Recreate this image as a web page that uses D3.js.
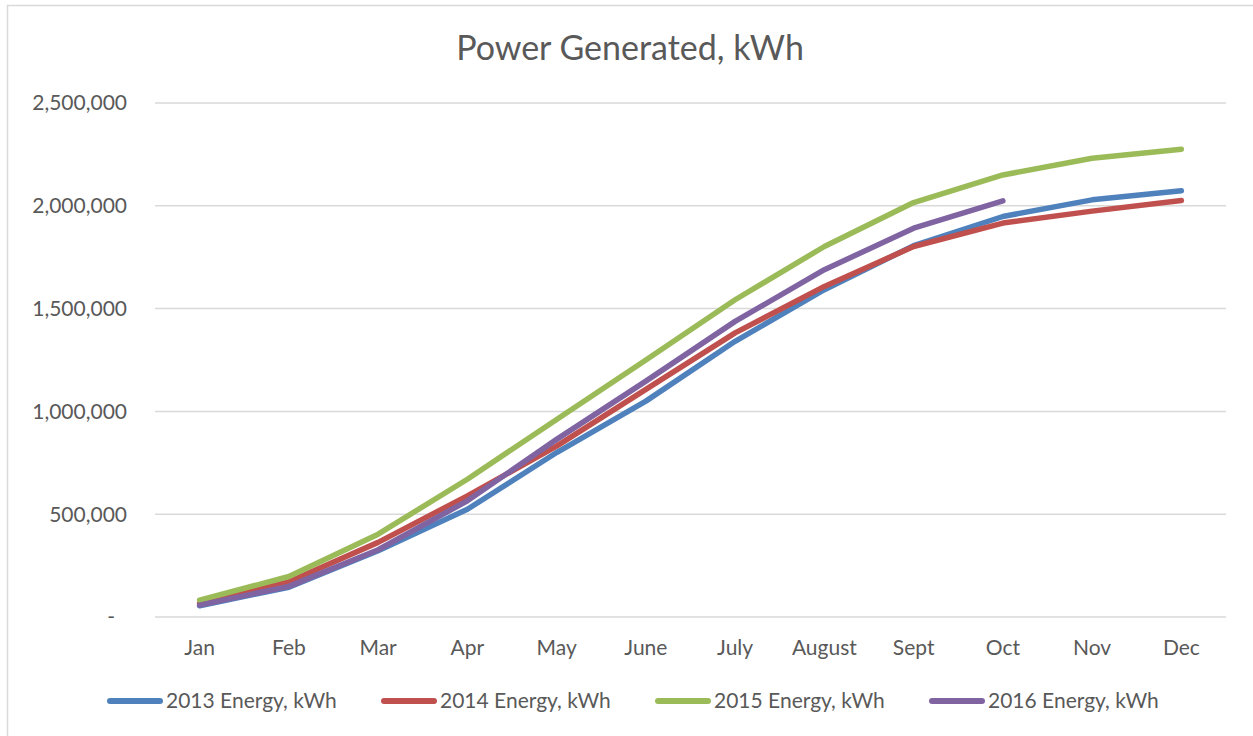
<!DOCTYPE html>
<html>
<head>
<meta charset="utf-8">
<script src="https://cdn.jsdelivr.net/npm/d3@7"></script>
<style>
  body { margin: 0; background: #fff; }
  text { font-family: Lato, "Open Sans", sans-serif; fill: #595959; }
</style>
</head>
<body>
<svg id="chart" width="1253" height="736"></svg>
<script>
// values
var months = ["Jan", "Feb", "Mar", "Apr", "May", "June", "July", "August", "Sept", "Oct", "Nov", "Dec"];
var seriesNames = ["2013 Energy, kWh", "2014 Energy, kWh", "2015 Energy, kWh", "2016 Energy, kWh"];
var energy2013 = [55000, 145000, 322000, 524000, 800000, 1050000, 1341000, 1592000, 1806000, 1948000, 2029000, 2073000];
var energy2014 = [66000, 171000, 363000, 589000, 831000, 1107000, 1382000, 1608000, 1802000, 1916000, 1974000, 2026000];
var energy2015 = [82000, 197000, 403000, 670000, 961000, 1250000, 1543000, 1802000, 2016000, 2150000, 2231000, 2275000];
var energy2016 = [58000, 149000, 327000, 565000, 864000, 1147000, 1438000, 1689000, 1891000, 2024000];
var yTicks = [0, 500000, 1000000, 1500000, 2000000, 2500000];
var colors = ["#4F81BD", "#C0504D", "#9BBB59", "#8064A2"];

var allSeries = [energy2013, energy2014, energy2015, energy2016];

var svg = d3.select("#chart"),
    plotLeft = 155, plotRight = 1226, plotTop = 103, plotBottom = 617;

// outer chart border (only top/left visible in the picture)
svg.append("rect")
    .attr("x", 7.5).attr("y", 5.5)
    .attr("width", 1260).attr("height", 760)
    .attr("fill", "none").attr("stroke", "#d9d9d9").attr("stroke-width", 1.5);

svg.append("text")
    .attr("x", 630).attr("y", 60)
    .attr("text-anchor", "middle")
    .style("font-size", "34px")
    .text("Power Generated, kWh");

var x = d3.scaleBand().domain(months).range([plotLeft, plotRight]);
var y = d3.scaleLinear().domain([0, 2500000]).range([plotBottom, plotTop]);

// gridlines
svg.append("g").selectAll("line")
    .data(yTicks)
    .enter().append("line")
      .attr("x1", plotLeft).attr("x2", plotRight)
      .attr("y1", function (d) { return y(d); })
      .attr("y2", function (d) { return y(d); })
      .attr("stroke", "#d9d9d9").attr("stroke-width", 1.5);

// y labels
var fmt = d3.format(",");
svg.append("g").selectAll("text")
    .data(yTicks)
    .enter().append("text")
      .attr("x", function (d) { return d === 0 ? 115 : 127; })
      .attr("y", function (d) { return y(d); })
      .attr("dy", "0.35em")
      .attr("text-anchor", "end")
      .style("font-size", "21px")
      .text(function (d) { return d === 0 ? "-" : fmt(d); });

// x labels
svg.append("g").selectAll("text")
    .data(months)
    .enter().append("text")
      .attr("x", function (d) { return x(d) + x.bandwidth() / 2; })
      .attr("y", 655)
      .attr("text-anchor", "middle")
      .style("font-size", "21px")
      .text(function (d) { return d; });

var line = d3.line()
    .x(function (d, i) { return x(months[i]) + x.bandwidth() / 2; })
    .y(function (d) { return y(d); });

svg.append("g").selectAll("path")
    .data(allSeries)
    .enter().append("path")
      .attr("d", line)
      .attr("fill", "none")
      .attr("stroke", function (d, i) { return colors[i]; })
      .attr("stroke-width", 5.5)
      .attr("stroke-linecap", "round")
      .attr("stroke-linejoin", "round");

// legend
var legend = svg.append("g").selectAll("g")
    .data(seriesNames)
    .enter().append("g")
      .attr("transform", function (d, i) { return "translate(" + (108 + i * 274) + ",701)"; });

legend.append("line")
    .attr("x1", 2).attr("x2", 52)
    .attr("stroke", function (d, i) { return colors[i]; })
    .attr("stroke-width", 6)
    .attr("stroke-linecap", "round");

legend.append("text")
    .attr("x", 58).attr("dy", "0.35em")
    .style("font-size", "21px")
    .text(function (d) { return d; });
</script>
</body>
</html>
